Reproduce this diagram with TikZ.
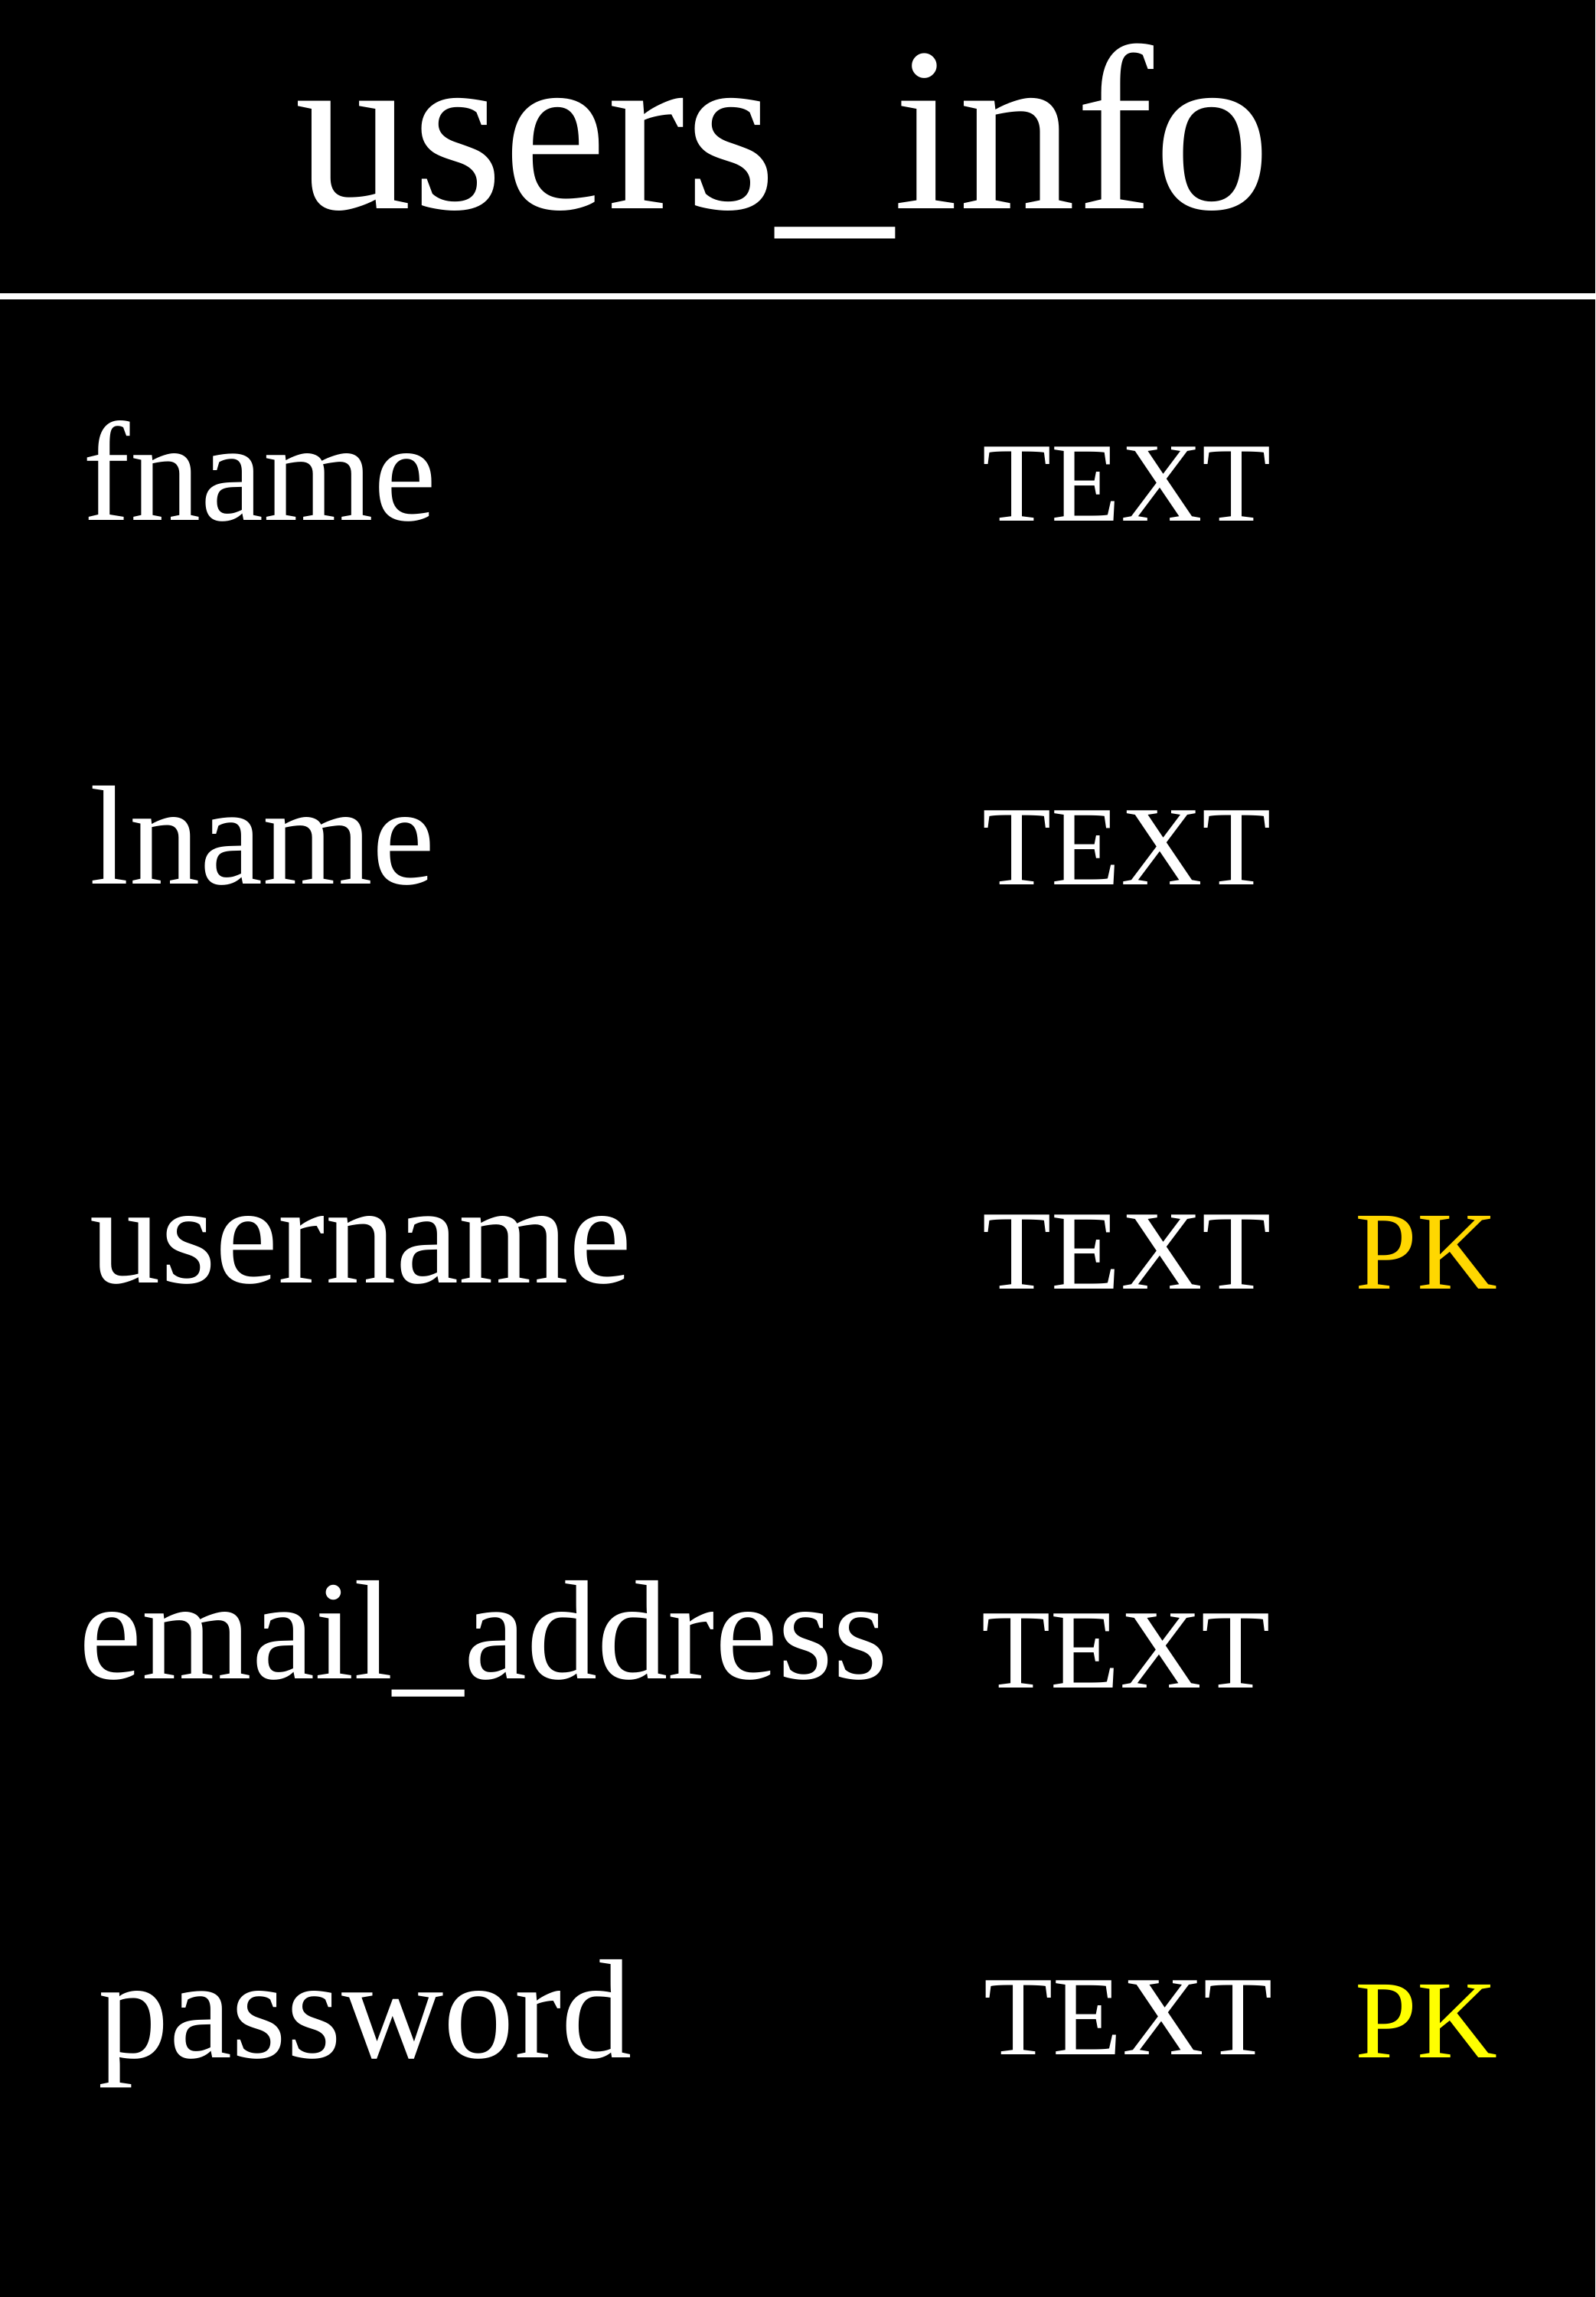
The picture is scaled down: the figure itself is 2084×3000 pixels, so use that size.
\documentclass[tikz,border=0pt]{standalone}
\usepackage{fontspec}
\setmainfont{Liberation Serif}
\usepackage{tikz}
\usetikzlibrary{positioning}

\definecolor{pkgold}{RGB}{255,215,0}
\definecolor{pkyellow}{RGB}{255,255,0}

\begin{document}
\begin{tikzpicture}[x=0.01cm, y=-0.01cm,
                    tablename/.style={text=white, inner sep=0pt, anchor=base, font=\fontsize{87}{100}\selectfont},
                    field/.style={text=white, inner sep=0pt, anchor=base west, font=\fontsize{52.5}{60}\selectfont},
                    coltype/.style={text=white, inner sep=0pt, anchor=base west, font=\fontsize{42}{50}\selectfont},
                    key/.style={inner sep=0pt, anchor=base west, font=\fontsize{41.3}{50}\selectfont},
                    rule/.style={draw=white, line width=0.08cm}]

    % Background
    \fill[black] (0,0) rectangle (2084,3000);
    \useasboundingbox (0,0) rectangle (2084,3000);

    % Header
    \node[tablename] (title) at (1023,272) {users\_info};
    \coordinate (ruleL) at (0,387);
    \coordinate (ruleR) at (2084,387);
    \draw[rule] (ruleL) -- (ruleR);

    % Fields
    \node[field] (fname) at (108,679) {fname};
    \node[field] (lname) at (117,1154) {lname};
    \node[field] (username) at (117,1675) {username};
    \node[field] (email) at (103,2192) {email\_address};
    \node[field] (password) at (128,2687) {password};

    % Types
    \node[coltype] (fnametype) at (1283,680) {TEXT};
    \node[coltype] (lnametype) at (1283,1155) {TEXT};
    \node[coltype] (usernametype) at (1283,1683) {TEXT};
    \node[coltype] (emailtype) at (1282,2204) {TEXT};
    \node[coltype] (passwordtype) at (1285,2683) {TEXT};

    % Keys
    \node[key, text=pkgold] (usernamepk) at (1770,1683) {PK};
    \node[key, text=pkyellow] (passwordpk) at (1770,2687) {PK};

\end{tikzpicture}
\end{document}
